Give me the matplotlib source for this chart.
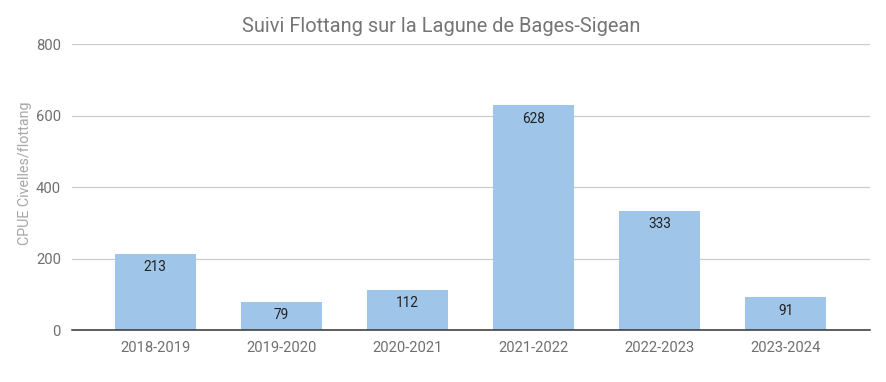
import matplotlib
matplotlib.use("Agg")
import matplotlib.pyplot as plt

# Saisons et CPUE
saisons = ["2018-2019", "2019-2020", "2020-2021", "2021-2022", "2022-2023", "2023-2024"]
cpue = [213, 79, 112, 628, 333, 91]
yticks = [0, 200, 400, 600, 800]

plt.rcParams['font.family'] = ['Roboto', 'DejaVu Sans']

fig = plt.figure(figsize=(8.87, 3.82), dpi=100)
ax = fig.add_axes([0.0812, 0.1361, 0.9, 0.7487])

x = list(range(len(saisons)))
bars = ax.bar(x, cpue, width=0.645, color="#9fc5e8", zorder=3)

for b, v in zip(bars, cpue):
    ax.text(b.get_x() + b.get_width() / 2, v - 17, str(v), ha="center", va="top",
            fontsize=9.8, color="#222222", zorder=4)

ax.set_xlim(-0.66, 5.67)
ax.set_ylim(0, 800)
ax.set_xticks(x)
ax.set_xticklabels(saisons)
ax.set_yticks(yticks)
ax.tick_params(axis="both", length=0, labelsize=10.6, colors="#6f6f6f")
ax.tick_params(axis="x", pad=8)
ax.tick_params(axis="y", pad=8)

ax.grid(axis="y", color="#cccccc", linewidth=0.9, zorder=0)
for s in ["top", "right", "left"]:
    ax.spines[s].set_visible(False)
ax.spines["bottom"].set_color("#333333")
ax.spines["bottom"].set_linewidth(1.1)
ax.spines["bottom"].set_zorder(5)

ax.set_ylabel("CPUE Civelles/flottang", fontsize=10.3, color="#a6a6a6", labelpad=10)
ax.yaxis.set_label_coords(-0.05, 0.549)
fig.suptitle("Suivi Flottang sur la Lagune de Bages-Sigean", fontsize=14.4, color="#757575",
             x=0.497, y=0.955, va="top")

fig.savefig("out.png", dpi=100)
